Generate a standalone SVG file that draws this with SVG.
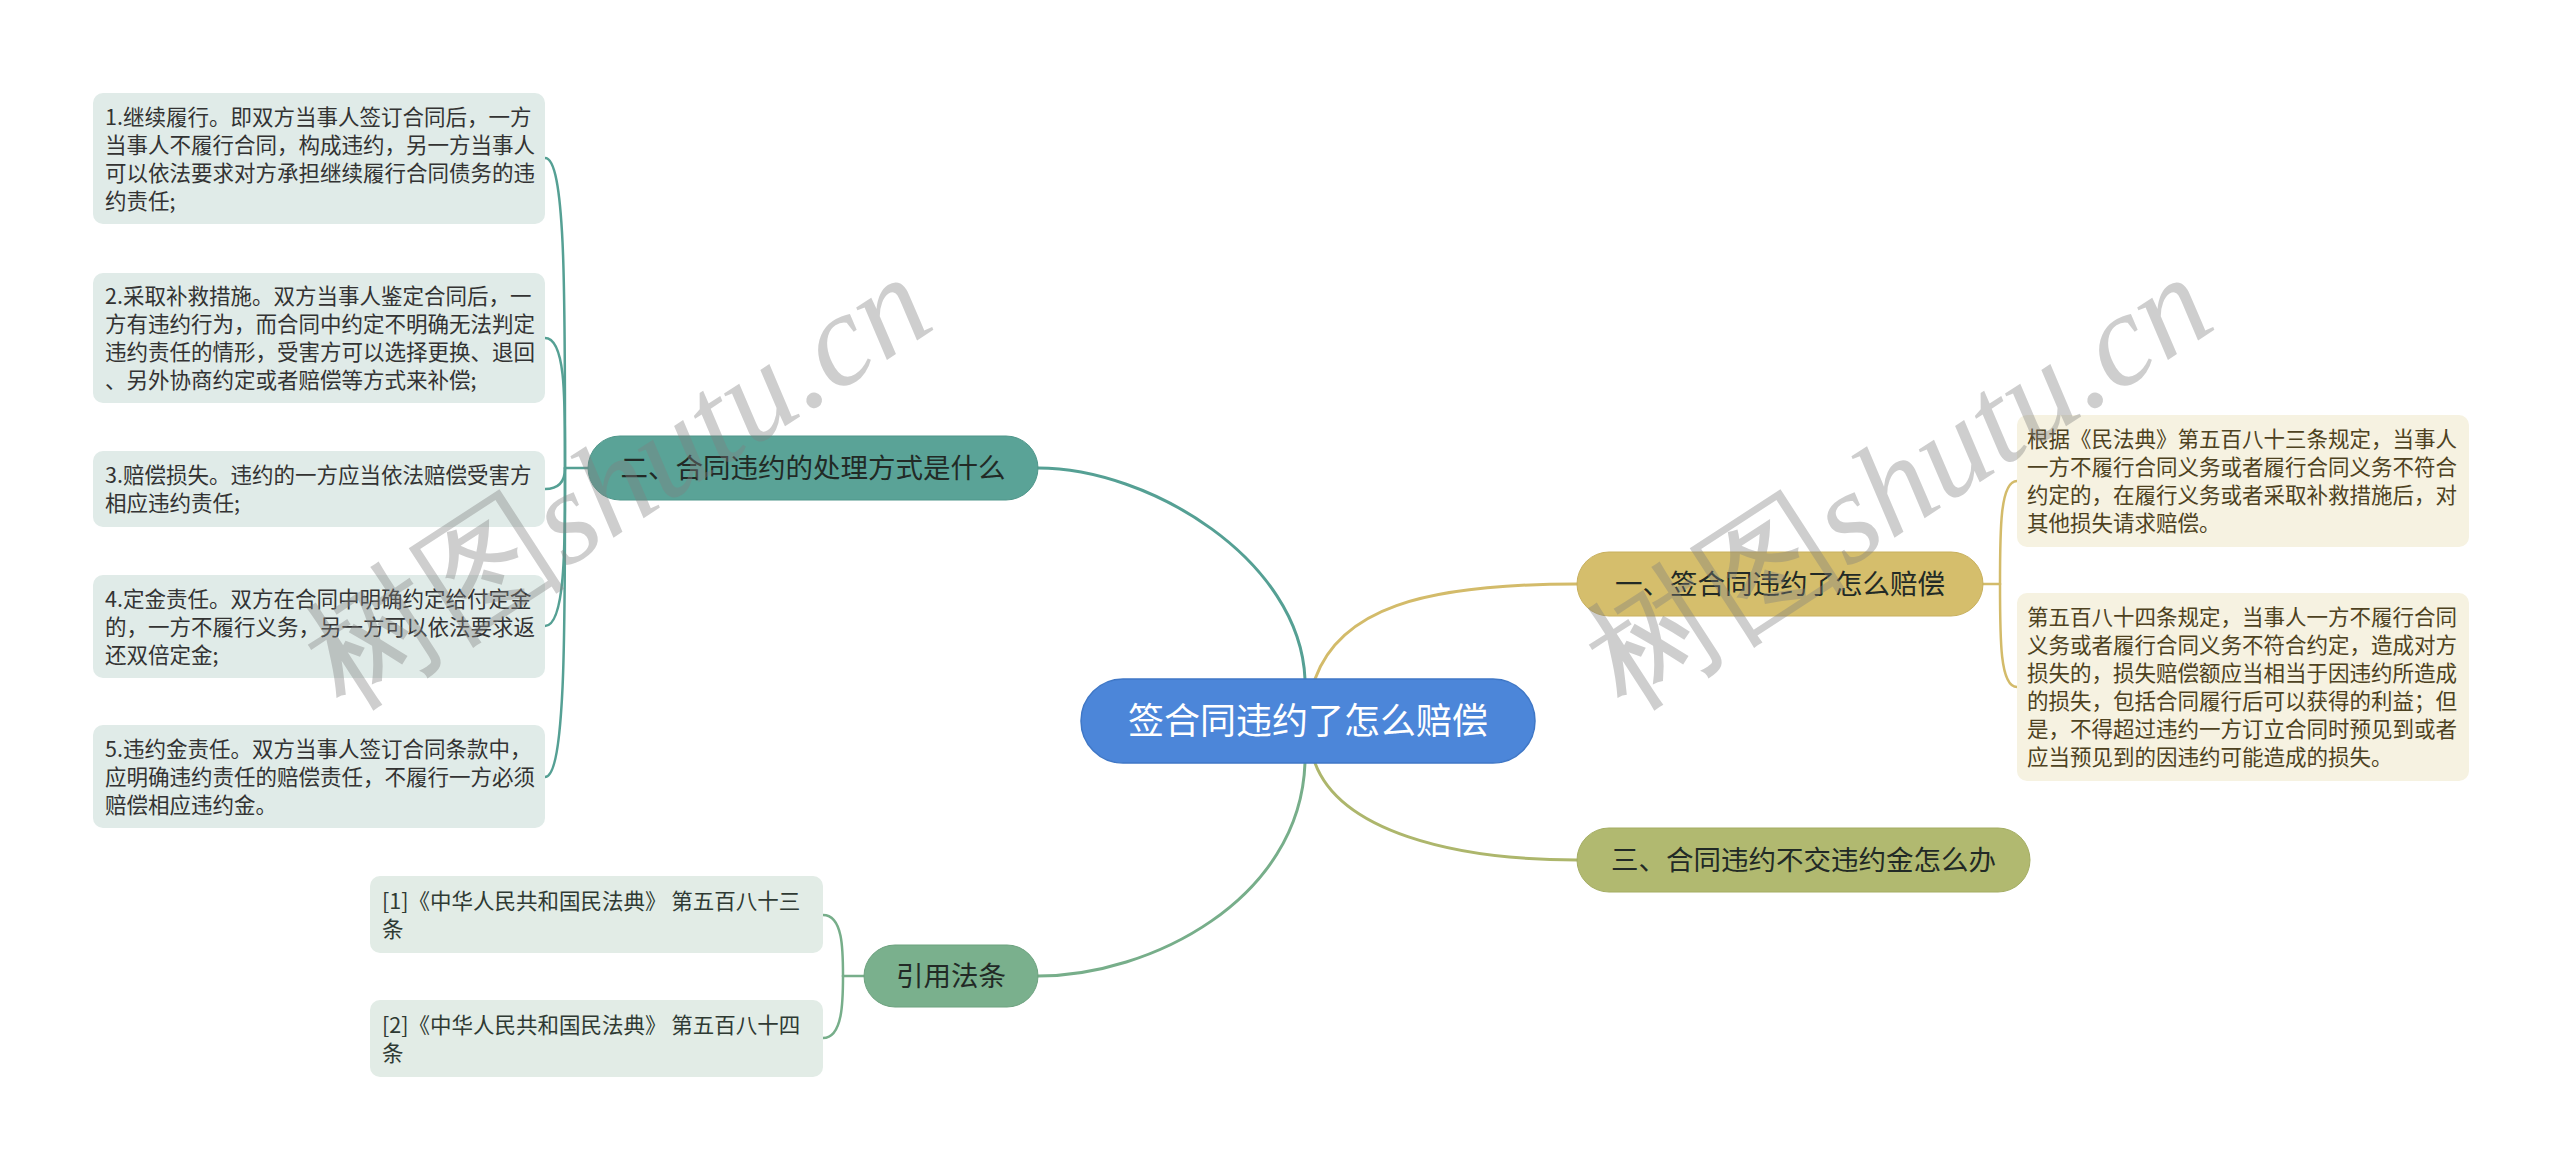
<svg xmlns="http://www.w3.org/2000/svg" width="2560" height="1169" viewBox="0 0 2560 1169">
<style>
text{font-family:"Noto Sans CJK SC","Noto Sans",sans-serif;}
.c{fill:none;stroke-width:3;stroke-linecap:round}
.s{fill:none;stroke-width:2.5;stroke-linecap:round}
.teal{stroke:#55a094}.gold{stroke:#d3bb6a}.olive{stroke:#adb66c}.green{stroke:#77ae8a}
.lb{fill:#e0ebe8}.rb{fill:#f6f2e1}.fb{fill:#e2ece6}
.lt{font-size:21.5px;fill:#333333}
.rt{font-size:21.5px;fill:#4e4221}
.ft{font-size:21.5px;fill:#2f3a33}
.bt{font-size:27.5px;fill:#222a26;text-anchor:middle}
.wm{font-family:"Liberation Serif",serif;font-size:132px;fill:#808080;opacity:0.38}
</style>
<rect width="2560" height="1169" fill="#ffffff"/>
<g id="connectors">
<path class="c teal" d="M1305,679 C1300,560 1150,468 1038,468"/>
<path class="c gold" d="M1315,679 C1340,610 1420,584 1577,584"/>
<path class="c olive" d="M1315,763 C1340,830 1450,860 1577,860"/>
<path class="c green" d="M1305,763 C1300,900 1150,976 1038,976"/>
<path class="s teal" d="M588,468 L565,468"/>
<path class="s teal" d="M545,158 C566,158 565,300 565,468"/>
<path class="s teal" d="M545,338 C566,338 565,400 565,468"/>
<path class="s teal" d="M545,489 C560,489 565,480 565,468"/>
<path class="s teal" d="M545,626 C566,626 565,540 565,468"/>
<path class="s teal" d="M545,777 C566,777 565,620 565,468"/>
<path class="s gold" d="M1983,584 L2000,584"/>
<path class="s gold" d="M2017,481 C2000,481 2000,530 2000,584"/>
<path class="s gold" d="M2017,687 C2000,687 2000,640 2000,584"/>
<path class="s green" d="M864,976 L843,976"/>
<path class="s green" d="M823,915 C843,915 843,950 843,976"/>
<path class="s green" d="M823,1038 C843,1038 843,1000 843,976"/>
</g>
<g id="root">
<rect x="1081" y="679" width="454" height="84" rx="42" fill="#4c86d9" stroke="#3f77c6" stroke-width="1.5"/>
<text x="1308" y="734" font-size="36" fill="#ffffff" text-anchor="middle">签合同违约了怎么赔偿</text>
</g>
<g id="branch-2">
<rect x="588" y="436" width="450" height="64" rx="32" fill="#5aa397" stroke="#4f968a" stroke-width="1"/>
<text class="bt" x="813" y="478">二、合同违约的处理方式是什么</text>
</g>
<g id="branch-1">
<rect x="1577" y="552" width="406" height="64" rx="32" fill="#d5be6c" stroke="#c8b05e" stroke-width="1"/>
<text class="bt" x="1780" y="594">一、签合同违约了怎么赔偿</text>
</g>
<g id="branch-3">
<rect x="1577" y="828" width="453" height="64" rx="32" fill="#b1b970" stroke="#a4ad63" stroke-width="1"/>
<text class="bt" x="1803.5" y="870">三、合同违约不交违约金怎么办</text>
</g>
<g id="branch-ref">
<rect x="864" y="945" width="174" height="62" rx="31" fill="#7ab08d" stroke="#6da27f" stroke-width="1"/>
<text class="bt" x="951" y="986">引用法条</text>
</g>
<g id="leaf-1">
<rect class="lb" x="93" y="93" width="452" height="131" rx="10"/>
<text class="lt" x="105" y="124.5">1.继续履行。即双方当事人签订合同后，一方</text>
<text class="lt" x="105" y="152.5">当事人不履行合同，构成违约，另一方当事人</text>
<text class="lt" x="105" y="180.5">可以依法要求对方承担继续履行合同债务的违</text>
<text class="lt" x="105" y="208.5">约责任;</text>
</g>
<g id="leaf-2">
<rect class="lb" x="93" y="273" width="452" height="130" rx="10"/>
<text class="lt" x="105" y="304">2.采取补救措施。双方当事人鉴定合同后，一</text>
<text class="lt" x="105" y="332">方有违约行为，而合同中约定不明确无法判定</text>
<text class="lt" x="105" y="360">违约责任的情形，受害方可以选择更换、退回</text>
<text class="lt" x="105" y="388">、另外协商约定或者赔偿等方式来补偿;</text>
</g>
<g id="leaf-3">
<rect class="lb" x="93" y="451" width="452" height="76" rx="10"/>
<text class="lt" x="105" y="483">3.赔偿损失。违约的一方应当依法赔偿受害方</text>
<text class="lt" x="105" y="511">相应违约责任;</text>
</g>
<g id="leaf-4">
<rect class="lb" x="93" y="575" width="452" height="103" rx="10"/>
<text class="lt" x="105" y="606.5">4.定金责任。双方在合同中明确约定给付定金</text>
<text class="lt" x="105" y="634.5">的，一方不履行义务，另一方可以依法要求返</text>
<text class="lt" x="105" y="662.5">还双倍定金;</text>
</g>
<g id="leaf-5">
<rect class="lb" x="93" y="725" width="452" height="103" rx="10"/>
<text class="lt" x="105" y="756.5">5.违约金责任。双方当事人签订合同条款中，</text>
<text class="lt" x="105" y="784.5">应明确违约责任的赔偿责任，不履行一方必须</text>
<text class="lt" x="105" y="812.5">赔偿相应违约金。</text>
</g>
<g id="leaf-r1">
<rect class="rb" x="2017" y="415" width="452" height="132" rx="10"/>
<text class="rt" x="2027" y="447">根据《民法典》第五百八十三条规定，当事人</text>
<text class="rt" x="2027" y="475">一方不履行合同义务或者履行合同义务不符合</text>
<text class="rt" x="2027" y="503">约定的，在履行义务或者采取补救措施后，对</text>
<text class="rt" x="2027" y="531">其他损失请求赔偿。</text>
</g>
<g id="leaf-r2">
<rect class="rb" x="2017" y="593" width="452" height="188" rx="10"/>
<text class="rt" x="2027" y="625">第五百八十四条规定，当事人一方不履行合同</text>
<text class="rt" x="2027" y="653">义务或者履行合同义务不符合约定，造成对方</text>
<text class="rt" x="2027" y="681">损失的，损失赔偿额应当相当于因违约所造成</text>
<text class="rt" x="2027" y="709">的损失，包括合同履行后可以获得的利益；但</text>
<text class="rt" x="2027" y="737">是，不得超过违约一方订立合同时预见到或者</text>
<text class="rt" x="2027" y="765">应当预见到的因违约可能造成的损失。</text>
</g>
<g id="ref-1">
<rect class="fb" x="370" y="876" width="453" height="77" rx="10"/>
<text class="ft" x="382" y="908.5">[1]《中华人民共和国民法典》 第五百八十三</text>
<text class="ft" x="382" y="936.5">条</text>
</g>
<g id="ref-2">
<rect class="fb" x="370" y="1000" width="453" height="77" rx="10"/>
<text class="ft" x="382" y="1032.5">[2]《中华人民共和国民法典》 第五百八十四</text>
<text class="ft" x="382" y="1060.5">条</text>
</g>
<g id="watermarks">
<text class="wm" x="345" y="712" transform="rotate(-33 345 712)">树图<tspan font-style="italic">shutu.cn</tspan></text>
<text class="wm" x="1626" y="712" transform="rotate(-33 1626 712)">树图<tspan font-style="italic">shutu.cn</tspan></text>
</g>
</svg>
